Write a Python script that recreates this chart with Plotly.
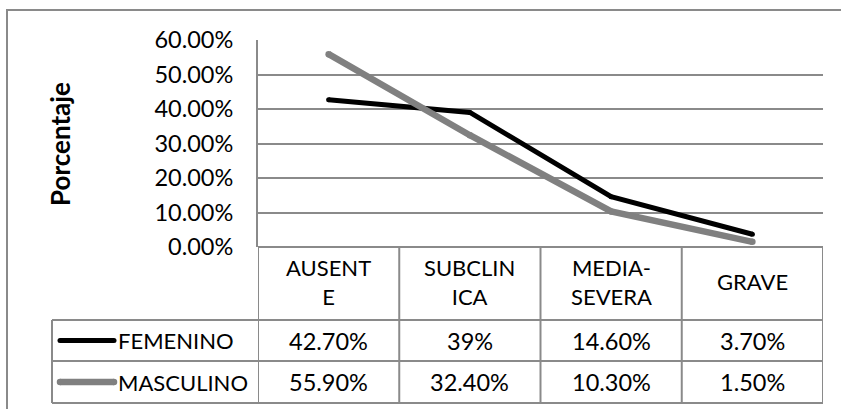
import plotly.graph_objects as go

# ---- data -------------------------------------------------------------
header_labels = ["AUSENT<br>E", "SUBCLIN<br>ICA", "MEDIA-<br>SEVERA", "GRAVE"]
series_names = ["FEMENINO", "MASCULINO"]
femenino_labels = ["42.70%", "39%", "14.60%", "3.70%"]
masculino_labels = ["55.90%", "32.40%", "10.30%", "1.50%"]
y_ticks = [0.0, 0.1, 0.2, 0.3, 0.4, 0.5, 0.6]
y_title = "Porcentaje"


def pct_to_float(label):
    return float(label.rstrip("%")) / 100.0


femenino = [pct_to_float(s) for s in femenino_labels]
masculino = [pct_to_float(s) for s in masculino_labels]
series_values = [femenino, masculino]
series_labels = [femenino_labels, masculino_labels]
series_colors = ["#000000", "#808080"]
series_widths = [5, 6.5]

# ---- layout geometry (pixels) ----------------------------------------
W, H = 841, 409
PLOT_L, PLOT_R = 258, 823
PLOT_T, PLOT_B = 40, 247
TABLE_L = 52
ROW_EDGES = [247, 320, 361, 403]
LINE_COLOR = "#8a8a8a"
FONT = "Lato"
FS_TEXT = 22      # category / series names
FS_NUM = 23.5     # numeric cells and tick labels
FS_TITLE = 26


def px(x):
    return x / W


def py(y):
    return 1 - y / H


xs = list(range(len(header_labels)))

fig = go.Figure()

for name, vals, col, wd in zip(series_names, series_values, series_colors, series_widths):
    fig.add_trace(go.Scatter(
        x=xs, y=vals, name=name, mode="lines+markers",
        line=dict(color=col, width=wd),
        marker=dict(color=col, size=wd, line=dict(width=0)),
        showlegend=False, hoverinfo="skip",
    ))

shapes = []
annotations = []

# outer chart border (extends past the page on right/bottom)
shapes.append(dict(type="rect", xref="paper", yref="paper",
                   x0=px(7), x1=px(W + 20), y0=py(10), y1=py(H + 20),
                   line=dict(color=LINE_COLOR, width=2), layer="below"))

# table horizontal rules
shapes.append(dict(type="line", xref="paper", yref="paper",
                   x0=px(PLOT_L), x1=px(PLOT_R), y0=py(ROW_EDGES[0]), y1=py(ROW_EDGES[0]),
                   line=dict(color=LINE_COLOR, width=2)))
for y in ROW_EDGES[1:]:
    shapes.append(dict(type="line", xref="paper", yref="paper",
                       x0=px(TABLE_L), x1=px(PLOT_R), y0=py(y), y1=py(y),
                       line=dict(color=LINE_COLOR, width=2)))

# table vertical rules: one per category boundary
for b in [i - 0.5 for i in range(len(header_labels) + 1)]:
    shapes.append(dict(type="line", xref="x", yref="paper",
                       x0=b, x1=b, y0=py(ROW_EDGES[0]), y1=py(ROW_EDGES[-1]),
                       line=dict(color=LINE_COLOR, width=2)))
shapes.append(dict(type="line", xref="paper", yref="paper",
                   x0=px(TABLE_L), x1=px(TABLE_L), y0=py(ROW_EDGES[1]), y1=py(ROW_EDGES[-1]),
                   line=dict(color=LINE_COLOR, width=2)))

# header cells (wrapped category labels)
header_mid = (ROW_EDGES[0] + ROW_EDGES[1]) / 2 - 2
for x, lab in zip(xs, header_labels):
    annotations.append(dict(xref="x", yref="paper", x=x, y=py(header_mid),
                            text=lab, showarrow=False, xanchor="center", yanchor="middle",
                            align="center", borderpad=0,
                            font=dict(family=FONT, size=FS_TEXT, color="#000")))

# data rows with legend keys (keys drawn on a full-page pixel axis)
for r, (name, labs, col, wd) in enumerate(zip(series_names, series_labels, series_colors, series_widths)):
    mid = (ROW_EDGES[r + 1] + ROW_EDGES[r + 2]) / 2
    fig.add_trace(go.Scatter(
        x=[60, 114], y=[mid, mid], xaxis="x2", yaxis="y2", mode="lines+markers",
        line=dict(color=col, width=wd), marker=dict(color=col, size=wd, line=dict(width=0)),
        showlegend=False, hoverinfo="skip", cliponaxis=False,
    ))
    annotations.append(dict(xref="paper", yref="paper", x=px(116), y=py(mid),
                            text=name, showarrow=False, xanchor="left", yanchor="middle",
                            font=dict(family=FONT, size=FS_TEXT, color="#000")))
    for x, lab in zip(xs, labs):
        annotations.append(dict(xref="x", yref="paper", x=x, y=py(mid),
                                text=lab, showarrow=False, xanchor="center", yanchor="middle",
                                font=dict(family=FONT, size=FS_NUM, color="#000")))

# y-axis title
annotations.append(dict(xref="paper", yref="paper", x=px(60), y=py(144),
                        text="<b>%s</b>" % y_title, textangle=-90, showarrow=False,
                        xanchor="center", yanchor="middle",
                        font=dict(family=FONT, size=FS_TITLE, color="#000")))

fig.update_layout(
    width=W, height=H,
    margin=dict(l=0, r=0, t=0, b=0, autoexpand=False),
    paper_bgcolor="white", plot_bgcolor="rgba(0,0,0,0)",
    xaxis=dict(domain=[px(PLOT_L), px(PLOT_R)], range=[-0.5, len(xs) - 0.5],
               visible=False, fixedrange=True),
    yaxis=dict(domain=[py(PLOT_B), py(PLOT_T)], range=[0, 0.6],
               tickvals=y_ticks, tickformat=".2%",
               showgrid=True, gridcolor=LINE_COLOR, gridwidth=2,
               showline=True, linecolor=LINE_COLOR, linewidth=2,
               zeroline=False, ticks="", ticklabelstandoff=18,
               tickfont=dict(family=FONT, size=FS_NUM, color="#000"), fixedrange=True),
    xaxis2=dict(domain=[0, 1], range=[0, W], visible=False, anchor="y2", fixedrange=True),
    yaxis2=dict(domain=[0, 1], range=[H, 0], visible=False, anchor="x2", fixedrange=True),
    shapes=shapes,
    annotations=annotations,
    showlegend=False,
)

fig.write_html("out.html")
